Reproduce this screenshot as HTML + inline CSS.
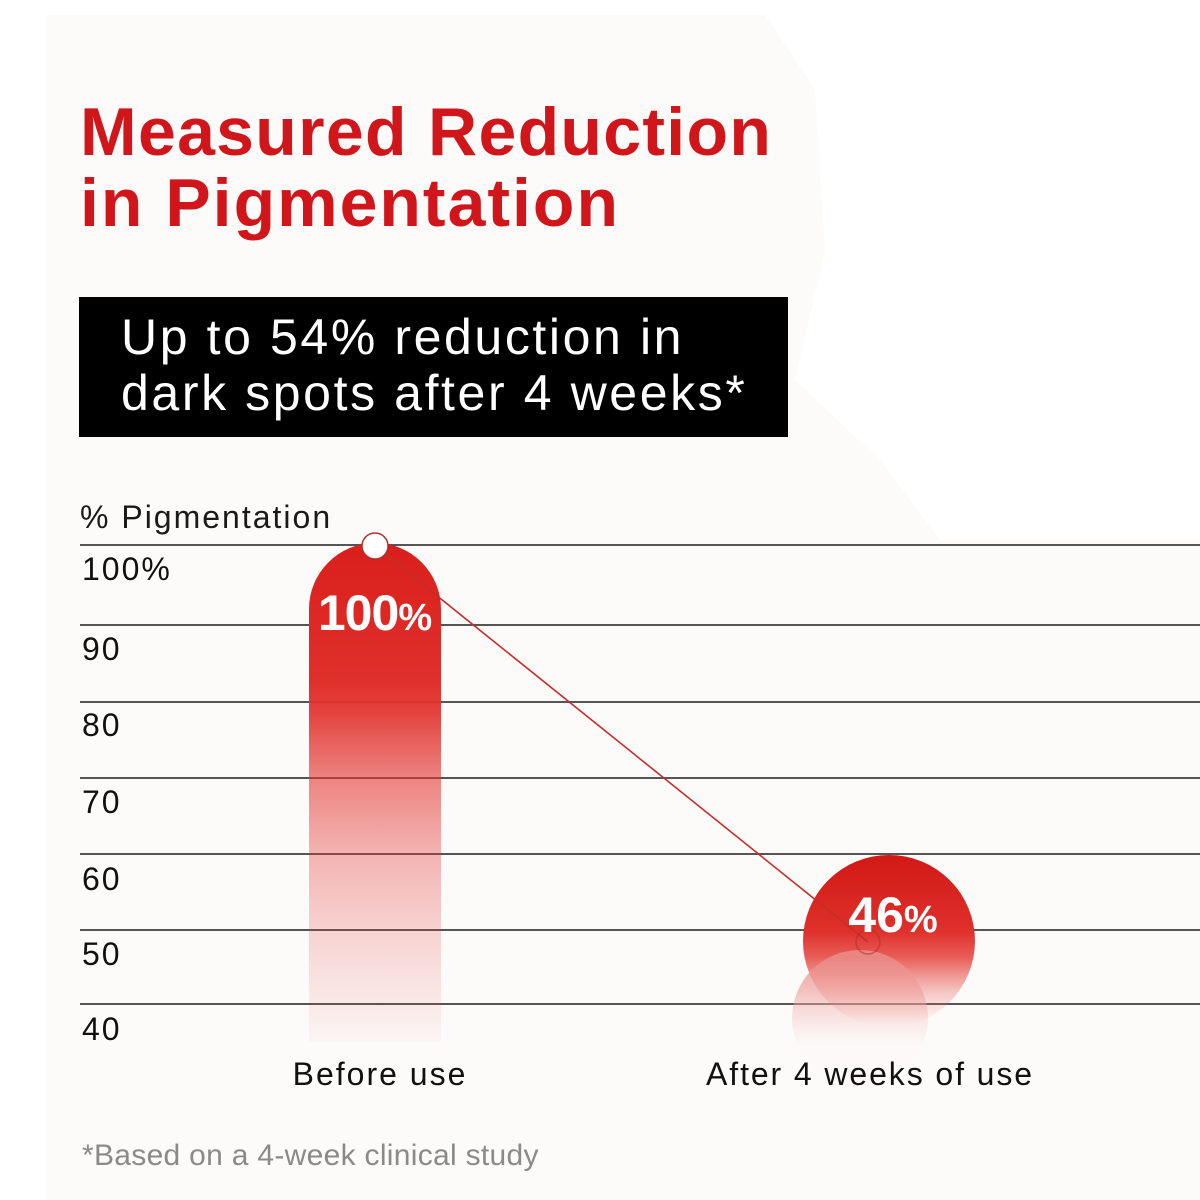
<!DOCTYPE html>
<html>
<head>
<meta charset="utf-8">
<style>
  html,body{margin:0;padding:0;background:#ffffff;}
  svg{display:block;}
  text{font-family:"Liberation Sans", Arial, sans-serif;}
</style>
</head>
<body>
<svg width="1200" height="1200" viewBox="0 0 1200 1200" xmlns="http://www.w3.org/2000/svg">
  <defs>
    <linearGradient id="barGrad" gradientUnits="userSpaceOnUse" x1="0" y1="543" x2="0" y2="1042">
      <stop offset="0" stop-color="#da1f1b" stop-opacity="1"/>
      <stop offset="0.28" stop-color="#e0302b" stop-opacity="1"/>
      <stop offset="0.34" stop-color="#e2332e" stop-opacity="0.92"/>
      <stop offset="0.47" stop-color="#e2332e" stop-opacity="0.6"/>
      <stop offset="0.62" stop-color="#e2332e" stop-opacity="0.36"/>
      <stop offset="0.78" stop-color="#e2332e" stop-opacity="0.2"/>
      <stop offset="1" stop-color="#e2332e" stop-opacity="0.03"/>
    </linearGradient>
    <linearGradient id="bigGrad" gradientUnits="userSpaceOnUse" x1="0" y1="855" x2="0" y2="1025">
      <stop offset="0" stop-color="#d21915" stop-opacity="1"/>
      <stop offset="0.45" stop-color="#df302b" stop-opacity="1"/>
      <stop offset="0.6" stop-color="#e4403b" stop-opacity="0.85"/>
      <stop offset="0.8" stop-color="#e85a55" stop-opacity="0.35"/>
      <stop offset="1" stop-color="#ee7a76" stop-opacity="0"/>
    </linearGradient>
    <linearGradient id="smallGrad" gradientUnits="userSpaceOnUse" x1="0" y1="950" x2="0" y2="1045">
      <stop offset="0" stop-color="#ea8a86" stop-opacity="0.9"/>
      <stop offset="0.45" stop-color="#ee9e9a" stop-opacity="0.6"/>
      <stop offset="1" stop-color="#f6cfcd" stop-opacity="0.05"/>
    </linearGradient>
  </defs>

  <!-- background panel -->
  <rect x="0" y="0" width="1200" height="1200" fill="#ffffff"/>
  <polygon points="46,15 765,15 815,90 825,250 795,380 880,460 940,540 1200,540 1200,1200 46,1200" fill="#fcfbfa"/>

  <!-- Title -->
  <text x="80" y="155" font-size="68" font-weight="bold" fill="#d0161b" letter-spacing="1.3">Measured Reduction</text>
  <text x="80" y="226" font-size="68" font-weight="bold" fill="#d0161b" letter-spacing="2">in Pigmentation</text>

  <!-- Black callout -->
  <rect x="79" y="297" width="709" height="140" fill="#000000"/>
  <text x="121" y="354" font-size="50" fill="#ffffff" letter-spacing="2.6">Up to 54% reduction in</text>
  <text x="121" y="410" font-size="50" fill="#ffffff" letter-spacing="2.6">dark spots after 4 weeks*</text>

  <!-- Axis title -->
  <text x="80" y="528" font-size="32" fill="#1a1a1a" letter-spacing="2">% Pigmentation</text>

  <!-- Gridlines -->
  <g stroke="#555555" stroke-width="2">
    <line x1="80" y1="545" x2="1200" y2="545"/>
    <line x1="80" y1="625" x2="1200" y2="625"/>
    <line x1="80" y1="702" x2="1200" y2="702"/>
    <line x1="80" y1="778" x2="1200" y2="778"/>
    <line x1="80" y1="854" x2="1200" y2="854"/>
    <line x1="80" y1="930" x2="1200" y2="930"/>
    <line x1="80" y1="1004" x2="1200" y2="1004"/>
  </g>

  <!-- Tick labels -->
  <g font-size="32" fill="#111111" letter-spacing="2">
    <text x="82" y="580">100%</text>
    <text x="82" y="660">90</text>
    <text x="82" y="736">80</text>
    <text x="82" y="813">70</text>
    <text x="82" y="890">60</text>
    <text x="82" y="965">50</text>
    <text x="82" y="1040">40</text>
  </g>

  <!-- Bar 1 -->
  <path d="M309,1042 L309,609 A66,66 0 0 1 441,609 L441,1042 Z" fill="url(#barGrad)"/>
  <text x="375" y="630" text-anchor="middle" font-weight="bold" fill="#ffffff"><tspan font-size="50" letter-spacing="-1">100</tspan><tspan font-size="38">%</tspan></text>

  <!-- Bubble 46% -->
  <circle cx="889" cy="941" r="86" fill="url(#bigGrad)"/>
  <circle cx="860" cy="1018" r="68" fill="url(#smallGrad)"/>

  <!-- Connecting line -->
  <line x1="375" y1="546" x2="868" y2="942" stroke="#c52d28" stroke-width="1.6"/>
  <circle cx="868" cy="942" r="12" fill="none" stroke="#a8302c" stroke-opacity="0.55" stroke-width="1.5"/>
  <circle cx="375" cy="546" r="13" fill="#ffffff" stroke="#b5302c" stroke-width="1.5"/>

  <text x="893" y="932" text-anchor="middle" font-weight="bold" fill="#ffffff"><tspan font-size="50">46</tspan><tspan font-size="38">%</tspan></text>

  <!-- X labels -->
  <text x="380" y="1085" text-anchor="middle" font-size="32" fill="#111111" letter-spacing="2">Before use</text>
  <text x="870" y="1085" text-anchor="middle" font-size="32" fill="#111111" letter-spacing="1.9">After 4 weeks of use</text>

  <!-- Footnote -->
  <text x="82" y="1165" font-size="30" fill="#8a8a8a" letter-spacing="0.3">*Based on a 4-week clinical study</text>
</svg>
</body>
</html>
